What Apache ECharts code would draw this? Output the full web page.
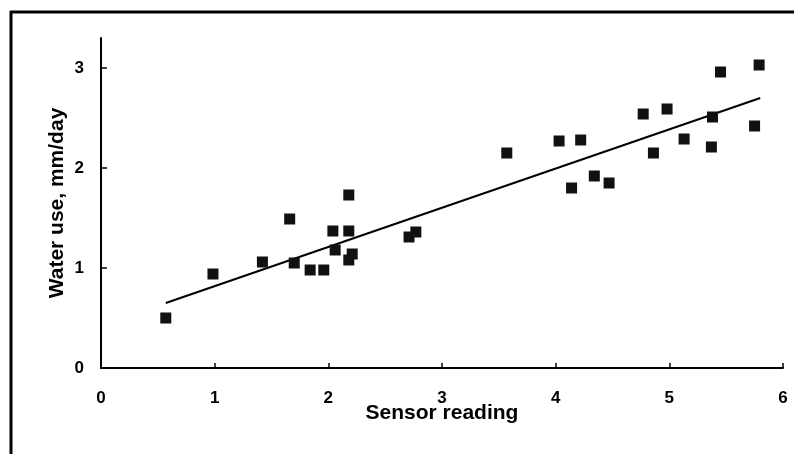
<!DOCTYPE html>
<html>
<head>
<meta charset="utf-8">
<script src="https://cdn.jsdelivr.net/npm/echarts@6/dist/echarts.min.js"></script>
<style>
  html, body { margin: 0; padding: 0; background: #fff; }
  #chart { width: 794px; height: 454px; }
</style>
</head>
<body>
<div id="chart"></div>
<script>
// sensor reading vs water use
var sensorX = [0.57, 0.985, 1.42, 1.66, 1.70, 1.84, 1.96, 2.04, 2.06, 2.18,
  2.18, 2.18, 2.21, 2.71, 2.77, 3.57, 4.03, 4.14, 4.22, 4.34,
  4.47, 4.77, 4.86, 4.98, 5.13, 5.37, 5.38, 5.45, 5.75, 5.79];
var waterUse = [0.50, 0.94, 1.06, 1.49, 1.05, 0.98, 0.98, 1.37, 1.18, 1.73,
  1.37, 1.08, 1.14, 1.31, 1.36, 2.15, 2.27, 1.80, 2.28, 1.92,
  1.85, 2.54, 2.15, 2.59, 2.29, 2.21, 2.51, 2.96, 2.42, 3.03];

// fitted line end points
var fitX = [0.57, 5.80];
var fitY = [0.65, 2.70];

var xTicks = [0, 1, 2, 3, 4, 5, 6];
var yTicks = [0, 1, 2, 3];

var points = sensorX.map(function(x, i) {
  return [x, waterUse[i]];
});
var fitLine = fitX.map(function(x, i) {
  return [x, fitY[i]];
});

var font = "'Liberation Sans', Arial, sans-serif";

var chart = echarts.init(document.getElementById("chart"), null, { renderer: "canvas" });
chart.setOption({
  backgroundColor: "#fff",
  animation: false,
  grid: { left: 101, right: 11, top: 38, bottom: 86 },
  xAxis: {
    type: "value",
    min: 0,
    max: 6,
    interval: 1,
    name: "Sensor reading",
    nameLocation: "middle",
    nameGap: 35,
    nameMoveOverlap: false,
    nameTextStyle: { fontFamily: font, fontWeight: "bold", fontSize: 21, color: "#000" },
    axisLine: { show: true, onZero: false, lineStyle: { color: "#000", width: 2 } },
    axisTick: { show: true, inside: true, length: 5, customValues: xTicks, lineStyle: { color: "#000", width: 1.5 } },
    axisLabel: { customValues: xTicks, margin: 22, fontFamily: font, fontWeight: "bold", fontSize: 17, color: "#000" },
    splitLine: { show: false }
  },
  yAxis: {
    type: "value",
    min: 0,
    max: 3.3,
    name: "Water use, mm/day",
    nameLocation: "middle",
    nameGap: 33,
    nameMoveOverlap: false,
    nameTextStyle: { fontFamily: font, fontWeight: "bold", fontSize: 21, color: "#000" },
    axisLine: { show: true, lineStyle: { color: "#000", width: 2 } },
    axisTick: { show: true, inside: true, length: 6, customValues: yTicks, lineStyle: { color: "#000", width: 1.5 } },
    axisLabel: { customValues: yTicks, margin: 17, fontFamily: font, fontWeight: "bold", fontSize: 17, color: "#000" },
    splitLine: { show: false }
  },
  series: [
    {
      type: "line",
      data: fitLine,
      symbol: "none",
      lineStyle: { color: "#000", width: 2 },
      z: 2
    },
    {
      type: "scatter",
      data: points,
      symbol: "rect",
      symbolSize: 11,
      itemStyle: { color: "#111", opacity: 1 },
      z: 3
    }
  ],
  graphic: [
    {
      type: "line",
      shape: { x1: 10, y1: 12, x2: 794, y2: 12 },
      style: { stroke: "#000", lineWidth: 3 }
    },
    {
      type: "line",
      shape: { x1: 11, y1: 11, x2: 11, y2: 454 },
      style: { stroke: "#000", lineWidth: 3 }
    }
  ]
});
</script>
</body>
</html>
